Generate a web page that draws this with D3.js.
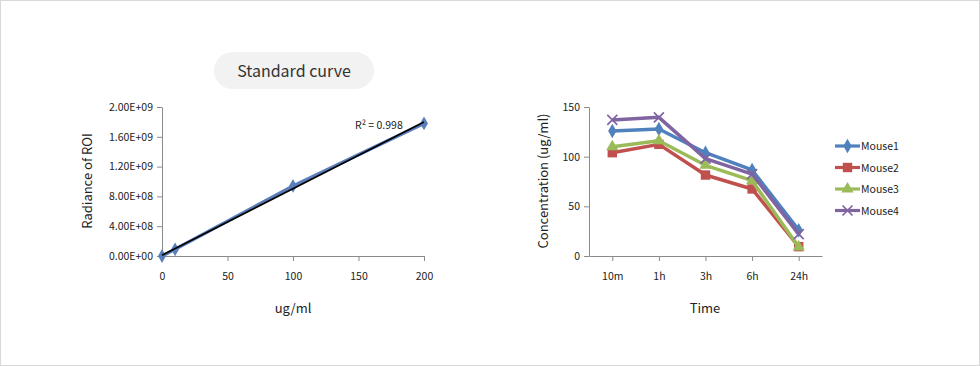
<!DOCTYPE html>
<html><head><meta charset="utf-8">
<script src="https://cdn.jsdelivr.net/npm/d3@7"></script>
<style>
html,body{margin:0;padding:0;background:#fff;}
svg{display:block;font-family:"Noto Sans CJK KR","Noto Sans",sans-serif;}
</style></head>
<body><svg id="c" width="980" height="366"></svg>
<script>
// ---- Data ----
const stdX = [0, 10, 100, 200];
const stdY = [0, 9.0e7, 9.4e8, 1.78e9];
const stdYTicks = [0, 4e8, 8e8, 1.2e9, 1.6e9, 2e9];
const stdYTickLabels = ["0.00E+00", "4.00E+08", "8.00E+08", "1.20E+09", "1.60E+09", "2.00E+09"];
const stdXTicks = [0, 50, 100, 150, 200];
const r2Label = "R² = 0.998";

const timeCats = ["10m", "1h", "3h", "6h", "24h"];
const seriesNames = ["Mouse1", "Mouse2", "Mouse3", "Mouse4"];
const mouse1 = [125.8, 127.8, 104, 86.6, 26];
const mouse2 = [104, 112.4, 81.5, 67.5, 9.4];
const mouse3 = [110, 116, 91.3, 75.8, 9];
const mouse4 = [137, 139.6, 98, 82.5, 22];
const concTicks = [0, 50, 100, 150];

const seriesValues = [mouse1, mouse2, mouse3, mouse4];
const colors = ["#4f81bd", "#c0504d", "#9bbb59", "#8064a2"];
const markers = ["diamond", "square", "triangle", "x"];

const svg = d3.select("#c");
const axisColor = "#8a8a8a";
const textColor = "#222";

// outer border
svg.append("rect").attr("x",0.5).attr("y",0.5).attr("width",979).attr("height",365)
  .attr("fill","#fff").attr("stroke","#d9d9d9");

// title pill
svg.append("rect").attr("x",214).attr("y",52).attr("width",160).attr("height",37)
  .attr("rx",18.5).attr("fill","#f2f2f2");
svg.append("text").attr("x",294).attr("y",76.5).attr("text-anchor","middle")
  .attr("font-size",16).attr("fill","#333").text("Standard curve");

function styleAxis(g){
  g.selectAll(".domain").attr("stroke",axisColor);
  g.selectAll(".tick line").attr("stroke",axisColor);
  g.selectAll(".tick text").attr("fill",textColor).attr("font-size",10.5)
   .attr("font-family",'"Noto Sans CJK KR","Noto Sans",sans-serif');
}

// ---- Left chart ----
const lx = d3.scaleLinear().domain([0,200]).range([162,424]);
const ly = d3.scaleLinear().domain([0,2e9]).range([256,107]);
const labelMap = new Map(stdYTicks.map((v,i)=>[v,stdYTickLabels[i]]));

const gly = svg.append("g").attr("transform","translate(162,0)")
  .call(d3.axisLeft(ly).tickValues(stdYTicks).tickFormat(d=>labelMap.get(d)).tickSize(5).tickSizeOuter(0).tickPadding(4));
styleAxis(gly);
const glx = svg.append("g").attr("transform","translate(0,256)")
  .call(d3.axisBottom(lx).tickValues(stdXTicks).tickSize(5).tickSizeOuter(0).tickPadding(12));
styleAxis(glx);

svg.append("text").attr("transform","translate(92,181) rotate(-90)").attr("text-anchor","middle")
  .attr("font-size",13).attr("fill",textColor).text("Radiance of ROI");
svg.append("text").attr("x",293).attr("y",313).attr("text-anchor","middle")
  .attr("font-size",13).attr("fill",textColor).text("ug/ml");

const stdPts = stdX.map((x,i)=>[x,stdY[i]]);
svg.append("path").datum(stdPts)
  .attr("d", d3.line().x(d=>lx(d[0])).y(d=>ly(d[1])))
  .attr("fill","none").attr("stroke","#5b7fbc").attr("stroke-width",3.4);

const diamond = d3.symbol().type(d3.symbolDiamond).size(55);
svg.append("g").selectAll("path").data(stdPts).join("path")
  .attr("transform",d=>`translate(${lx(d[0])},${ly(d[1])})`)
  .attr("d",diamond).attr("fill","#5b7fbc");

// linear trendline (least squares)
const mx = d3.mean(stdX), my = d3.mean(stdY);
const slope = d3.sum(stdX.map((x,i)=>(x-mx)*(stdY[i]-my))) / d3.sum(stdX.map(x=>(x-mx)*(x-mx)));
const icpt = my - slope*mx;
svg.append("line")
  .attr("x1",lx(0)).attr("y1",ly(icpt)).attr("x2",lx(200)).attr("y2",ly(icpt+slope*200))
  .attr("stroke","#000").attr("stroke-width",1.6);

svg.append("text").attr("x",355).attr("y",129).attr("font-size",10.5).attr("fill",textColor)
  .text(r2Label);

// ---- Right chart ----
const rx = d3.scalePoint().domain(timeCats).range([589,822]).padding(0.5);
const ry = d3.scaleLinear().domain([0,150]).range([256,107]);

const gry = svg.append("g").attr("transform","translate(589,0)")
  .call(d3.axisLeft(ry).tickValues(concTicks).tickSize(5).tickSizeOuter(0).tickPadding(4));
styleAxis(gry);
const grx = svg.append("g").attr("transform","translate(0,256)")
  .call(d3.axisBottom(rx).tickSize(5).tickSizeOuter(0).tickPadding(12));
styleAxis(grx);

svg.append("text").attr("transform","translate(548,181) rotate(-90)").attr("text-anchor","middle")
  .attr("font-size",13).attr("fill",textColor).text("Concentration (ug/ml)");
svg.append("text").attr("x",705).attr("y",313).attr("text-anchor","middle")
  .attr("font-size",13).attr("fill",textColor).text("Time");

function drawMarker(g, type, color, x, y){
  if(type==="diamond"){
    g.append("path").attr("transform",`translate(${x},${y})`)
      .attr("d",d3.symbol().type(d3.symbolDiamond).size(60)).attr("fill",color);
  } else if(type==="square"){
    g.append("rect").attr("x",x-4.7).attr("y",y-4.7).attr("width",9.4).attr("height",9.4).attr("fill",color);
  } else if(type==="triangle"){
    g.append("path").attr("transform",`translate(${x},${y})`)
      .attr("d",d3.symbol().type(d3.symbolTriangle).size(65)).attr("fill",color);
  } else {
    g.append("path").attr("d",`M${x-5},${y-5}L${x+5},${y+5}M${x-5},${y+5}L${x+5},${y-5}`)
      .attr("stroke",color).attr("stroke-width",1.7).attr("fill","none");
  }
}

seriesValues.forEach((vals,si)=>{
  const g = svg.append("g");
  g.append("path").datum(vals)
    .attr("d", d3.line().x((d,i)=>rx(timeCats[i])).y(d=>ry(d)))
    .attr("fill","none").attr("stroke",colors[si]).attr("stroke-width",3.5).attr("stroke-linejoin","round");
  vals.forEach((v,i)=>drawMarker(g, markers[si], colors[si], rx(timeCats[i]), ry(v)));
});

// legend
const leg = svg.append("g");
seriesNames.forEach((n,i)=>{
  const y = 146 + i*21.5;
  leg.append("line").attr("x1",835).attr("x2",860).attr("y1",y).attr("y2",y)
    .attr("stroke",colors[i]).attr("stroke-width",3.2);
  drawMarker(leg, markers[i], colors[i], 847.5, y);
  leg.append("text").attr("x",861).attr("y",y+4).attr("font-size",10.5).attr("fill",textColor).text(n);
});
</script></body></html>
